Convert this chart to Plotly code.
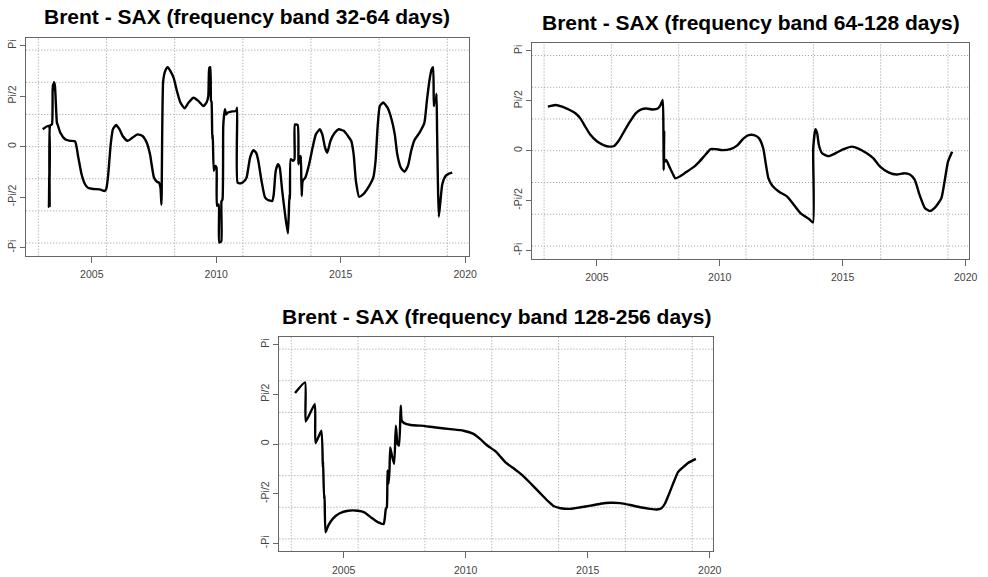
import math
import pandas as pd
import plotly.graph_objects as go

# ---- phase series (decimal year, phase in radians) ----
years_32_64 = [
    2003.03, 2003.27, 2003.28, 2003.30, 2003.31, 2003.33, 2003.40, 2003.43, 2003.46, 2003.48,
    2003.52, 2003.60, 2003.64, 2003.74, 2003.93, 2004.13, 2004.33, 2004.46, 2004.59, 2004.73,
    2004.86, 2005.06, 2005.32, 2005.52, 2005.58, 2005.65, 2005.76, 2005.85, 2005.98, 2006.11,
    2006.24, 2006.44, 2006.64, 2006.84, 2007.04, 2007.21, 2007.34, 2007.50, 2007.63, 2007.70,
    2007.76, 2007.80, 2007.87, 2007.96, 2008.05, 2008.16, 2008.29, 2008.42, 2008.56, 2008.73,
    2008.89, 2009.09, 2009.28, 2009.48, 2009.61, 2009.68, 2009.72, 2009.76, 2009.79, 2009.81,
    2009.84, 2009.86, 2009.90, 2009.96, 2010.01, 2010.03, 2010.10, 2010.12, 2010.20, 2010.21,
    2010.25, 2010.28, 2010.31, 2010.35, 2010.40, 2010.45, 2010.60, 2010.80, 2010.84, 2010.86,
    2011.00, 2011.13, 2011.22, 2011.36, 2011.49, 2011.60, 2011.69, 2011.82, 2011.96, 2012.08,
    2012.25, 2012.31, 2012.39, 2012.48, 2012.55, 2012.65, 2012.78, 2012.88, 2012.94, 2012.96,
    2012.99, 2013.07, 2013.14, 2013.16, 2013.27, 2013.30, 2013.34, 2013.38, 2013.40, 2013.43,
    2013.47, 2013.58, 2013.73, 2013.87, 2014.00, 2014.16, 2014.26, 2014.37, 2014.46, 2014.59,
    2014.76, 2014.92, 2015.12, 2015.29, 2015.42, 2015.52, 2015.61, 2015.74, 2015.91, 2016.11,
    2016.31, 2016.40, 2016.48, 2016.57, 2016.71, 2016.88, 2017.04, 2017.17, 2017.27, 2017.41,
    2017.56, 2017.70, 2017.83, 2017.96, 2018.16, 2018.36, 2018.46, 2018.56, 2018.65, 2018.71,
    2018.74, 2018.78, 2018.82, 2018.85, 2018.87, 2018.90, 2018.94, 2019.02, 2019.08, 2019.22,
    2019.35, 2019.48,
]
phase_32_64 = [
    0.54, 0.64, -1.87, -0.50, -1.85, 0.66, 0.69, 1.93, 1.75, 2.00,
    1.90, 0.75, 0.66, 0.43, 0.23, 0.18, 0.16, -0.34, -0.86, -1.17,
    -1.29, -1.32, -1.33, -1.38, -1.32, -0.96, 0.07, 0.54, 0.67, 0.54,
    0.33, 0.18, 0.28, 0.38, 0.33, 0.12, -0.24, -0.96, -1.10, -1.12,
    -1.27, -1.81, 2.04, 2.37, 2.47, 2.35, 2.14, 1.73, 1.37, 1.19,
    1.37, 1.52, 1.42, 1.26, 1.37, 1.57, 2.45, 2.47, 1.42, 1.40,
    0.23, 0.38, -0.75, -0.60, -0.65, -1.84, -1.80, -2.98, -2.95, -1.70,
    -1.65, 0.60, 0.95, 1.16, 1.00, 1.05, 1.09, 1.11, 1.21, -1.12,
    -1.14, -1.07, -0.96, -0.34, -0.11, -0.19, -0.44, -1.07, -1.58, -1.66,
    -1.69, -1.48, -0.75, -0.55, -0.65, -1.38, -2.20, -2.70, -1.48, -1.64,
    -0.39, -0.44, -0.39, 0.69, 0.67, -0.55, -0.29, -0.50, -0.29, -1.53,
    -1.07, -0.96, -0.55, -0.03, 0.38, 0.54, 0.38, -0.03, -0.19, 0.18,
    0.43, 0.54, 0.49, 0.33, 0.18, -0.24, -1.07, -1.56, -1.48, -1.27,
    -0.96, -0.44, 0.59, 1.26, 1.37, 1.21, 0.85, 0.38, -0.24, -0.65,
    -0.78, -0.60, -0.13, 0.20, 0.43, 0.74, 1.42, 2.04, 2.40, 2.47,
    1.26, 1.47, 1.42, 1.64, 0.49, -0.96, -2.18, -1.58, -1.17, -0.91,
    -0.84, -0.81,
]

years_64_128 = [
    2003.01, 2003.32, 2003.59, 2003.86, 2004.13, 2004.33, 2004.53, 2004.73, 2005.00, 2005.27,
    2005.51, 2005.70, 2005.91, 2006.14, 2006.34, 2006.58, 2006.81, 2007.01, 2007.28, 2007.48,
    2007.59, 2007.68, 2007.71, 2007.72, 2007.74, 2007.75, 2007.82, 2007.95, 2008.08, 2008.19,
    2008.35, 2008.62, 2008.96, 2009.16, 2009.40, 2009.63, 2009.83, 2010.10, 2010.43, 2010.70,
    2010.97, 2011.17, 2011.40, 2011.60, 2011.77, 2011.88, 2011.98, 2012.14, 2012.41, 2012.75,
    2013.02, 2013.29, 2013.63, 2013.79, 2013.80, 2013.89, 2013.96, 2014.03, 2014.16, 2014.43,
    2014.70, 2015.04, 2015.37, 2015.64, 2015.98, 2016.25, 2016.52, 2016.86, 2017.19, 2017.50,
    2017.73, 2017.93, 2018.13, 2018.34, 2018.54, 2018.74, 2019.01, 2019.14, 2019.28, 2019.45,
]
phase_64_128 = [
    1.39, 1.44, 1.39, 1.30, 1.18, 1.02, 0.76, 0.51, 0.30, 0.18,
    0.13, 0.15, 0.34, 0.65, 0.91, 1.18, 1.30, 1.33, 1.30, 1.33,
    1.44, 1.60, 0.60, -0.61, 0.60, -0.35, -0.29, -0.50, -0.71, -0.87,
    -0.82, -0.68, -0.50, -0.35, -0.14, 0.05, 0.05, 0.02, 0.05, 0.16,
    0.39, 0.49, 0.49, 0.39, 0.07, -0.45, -0.87, -1.10, -1.29, -1.45,
    -1.71, -1.97, -2.15, -2.26, 0.07, 0.68, 0.55, 0.18, -0.08, -0.17,
    -0.08, 0.05, 0.13, 0.07, -0.08, -0.24, -0.50, -0.68, -0.75, -0.71,
    -0.75, -0.92, -1.40, -1.80, -1.90, -1.80, -1.50, -0.98, -0.35, -0.03,
]

years_128_256 = [
    2003.01, 2003.42, 2003.45, 2003.82, 2003.85, 2004.09, 2004.15, 2004.16, 2004.20, 2004.22,
    2004.26, 2004.37, 2004.57, 2004.84, 2005.18, 2005.58, 2005.85, 2006.12, 2006.40, 2006.64,
    2006.69, 2006.73, 2006.77, 2006.80, 2006.84, 2006.88, 2006.91, 2006.98, 2007.07, 2007.14,
    2007.21, 2007.27, 2007.34, 2007.38, 2007.48, 2007.75, 2008.15, 2008.70, 2009.37, 2009.91,
    2010.32, 2010.59, 2010.86, 2011.24, 2011.39, 2011.66, 2012.00, 2012.34, 2012.68, 2013.02,
    2013.35, 2013.62, 2013.89, 2014.30, 2014.71, 2015.11, 2015.52, 2015.92, 2016.33, 2016.74,
    2017.14, 2017.55, 2017.82, 2018.02, 2018.16, 2018.33, 2018.52, 2018.70, 2018.90, 2019.11,
    2019.43,
]
phase_128_256 = [
    1.61, 1.95, 0.71, 1.26, 0.03, 0.42, -0.74, -0.56, -1.74, -1.61,
    -2.79, -2.58, -2.35, -2.19, -2.11, -2.11, -2.16, -2.32, -2.47, -2.53,
    -2.32, -2.05, -2.00, -0.84, -1.26, -0.84, -0.11, -0.37, -0.63, 0.58,
    0.00, -0.05, 1.21, 0.74, 0.66, 0.60, 0.58, 0.53, 0.47, 0.42,
    0.32, 0.16, -0.03, -0.24, -0.37, -0.60, -0.79, -1.00, -1.26, -1.53,
    -1.79, -1.97, -2.03, -2.05, -2.00, -1.95, -1.89, -1.86, -1.87, -1.93,
    -2.00, -2.05, -2.07, -2.03, -1.89, -1.58, -1.21, -0.89, -0.74, -0.60,
    -0.47,
]

titles = [
    "Brent - SAX (frequency band 32-64 days)",
    "Brent - SAX (frequency band 64-128 days)",
    "Brent - SAX (frequency band 128-256 days)",
]

# axis ticks and grid positions
x_tick_years = [2005, 2010, 2015, 2020]
y_tick_vals = [-math.pi, -math.pi / 2, 0, math.pi / 2, math.pi]
y_tick_text = ["-Pi", "-Pi/2", "0", "Pi/2", "Pi"]
x_grid_epoch_days = [12000, 13000, 14000, 15000, 16000, 17000, 18000]
y_grid_vals = [-3, -2, -1, 0, 1, 2, 3]
x_limits = [2002.37, 2020.14]
y_limits = [-3.393, 3.393]


def to_date(y):
    """Decimal year -> timestamp."""
    yr = int(math.floor(y))
    start = pd.Timestamp(year=yr, month=1, day=1)
    end = pd.Timestamp(year=yr + 1, month=1, day=1)
    return start + (end - start) * (y - yr)


W, H = 988, 577
# plot boxes in pixels: left, right, top, bottom
boxes = [
    (26.5, 472.5, 37.5, 255.7),
    (536.5, 977.0, 43.0, 258.5),
    (281.7, 719.0, 336.7, 551.3),
]
title_y_px = [17, 22, 316]

series = [
    (years_32_64, phase_32_64),
    (years_64_128, phase_64_128),
    (years_128_256, phase_128_256),
]

fig = go.Figure()
font_family = "Liberation Sans, Arial, sans-serif"
grid_color = "#9a9a9a"
frame_color = "#666666"

for i, ((yrs, ph), box) in enumerate(zip(series, boxes)):
    n = "" if i == 0 else str(i + 1)
    xa, ya = "x" + n, "y" + n
    fig.add_trace(go.Scatter(
        x=[to_date(v) for v in yrs], y=ph, mode="lines",
        line=dict(color="black", width=2.4, shape="spline", smoothing=0.5),
        xaxis=xa, yaxis=ya, showlegend=False, hoverinfo="skip",
    ))
    left, right, top, bottom = box
    xdom = [left / W, right / W]
    ydom = [1 - bottom / H, 1 - top / H]
    common = dict(
        showline=True, mirror=True, linecolor=frame_color, linewidth=1.3,
        ticks="outside", ticklen=6, tickcolor=frame_color, tickwidth=1,
        showgrid=False, zeroline=False,
        tickfont=dict(family=font_family, size=10.5, color="#444444"),
    )
    fig.layout["xaxis" + n] = dict(
        common, type="date", domain=xdom, anchor=ya,
        range=[to_date(x_limits[0]), to_date(x_limits[1])],
        tickmode="array",
        tickvals=[pd.Timestamp(year=v, month=1, day=1) for v in x_tick_years],
        ticktext=[str(v) for v in x_tick_years],
        ticklabelstandoff=3,
    )
    fig.layout["yaxis" + n] = dict(
        common, domain=ydom, anchor=xa, range=y_limits,
        tickmode="array", tickvals=y_tick_vals, ticktext=y_tick_text,
        tickangle=-90, ticklen=5,
    )
    # dotted reference grid
    for d in x_grid_epoch_days:
        gx = pd.Timestamp("1970-01-01") + pd.Timedelta(days=d)
        fig.add_shape(type="line", xref=xa, yref=ya + " domain",
                      x0=gx, x1=gx, y0=0, y1=1, layer="below",
                      line=dict(color=grid_color, width=1, dash="1px,2px"))
    for gy in y_grid_vals:
        fig.add_shape(type="line", xref=xa + " domain", yref=ya,
                      x0=0, x1=1, y0=gy, y1=gy, layer="below",
                      line=dict(color=grid_color, width=1, dash="1px,2px"))
    fig.add_annotation(
        text=titles[i], xref="paper", yref="paper",
        x=(left + right) / 2 / W, y=1 - title_y_px[i] / H,
        xanchor="center", yanchor="middle", showarrow=False,
        font=dict(family=font_family, size=21, color="black", weight="bold"),
    )

fig.update_layout(
    width=W, height=H, margin=dict(l=0, r=0, t=0, b=0),
    paper_bgcolor="white", plot_bgcolor="white",
)
fig.write_html("out.html")
